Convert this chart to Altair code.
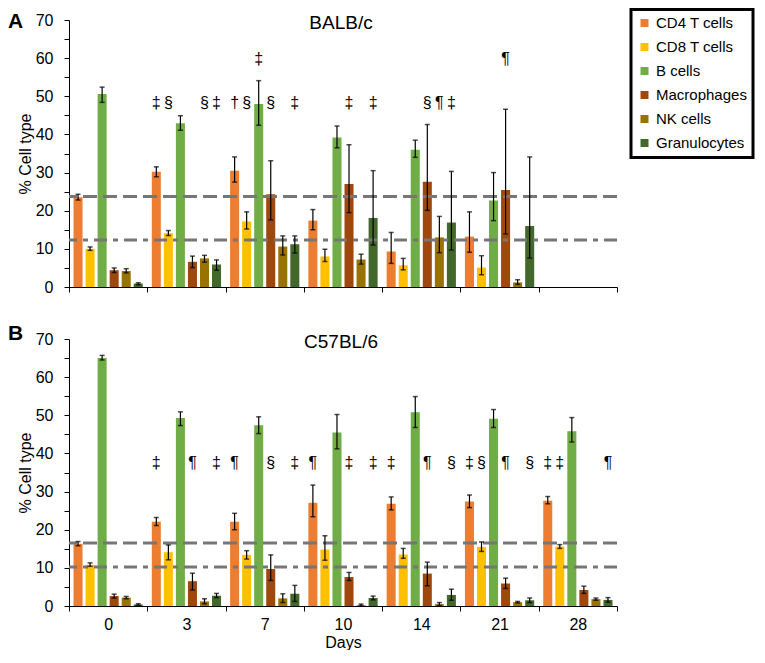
import altair as alt
import pandas as pd

days = ["0", "3", "7", "10", "14", "21", "28"]
cells = ["CD4 T cells", "CD8 T cells", "B cells", "Macrophages", "NK cells", "Granulocytes"]
colors = ["#ED7D31", "#FFC000", "#70AD47", "#9E480E", "#997300", "#43682B"]

# ---- Panel A: BALB/c (no data at day 28) ----
balb_mean = {
    "CD4 T cells":  [23.5, 30.2, 30.5, 17.4, 9.3, 13.2, None],
    "CD8 T cells":  [10.0, 14.1, 17.2, 8.0, 5.7, 5.1, None],
    "B cells":      [50.6, 42.9, 48.0, 39.2, 36.0, 22.7, None],
    "Macrophages":  [4.4, 6.6, 24.3, 27.0, 27.6, 25.4, None],
    "NK cells":     [4.2, 7.5, 10.6, 7.2, 13.0, 1.2, None],
    "Granulocytes": [0.9, 5.9, 11.2, 18.1, 16.9, 16.0, None],
}
balb_lo = {
    "CD4 T cells":  [22.8, 28.9, 27.5, 15.0, 6.2, 9.1, None],
    "CD8 T cells":  [9.6, 13.5, 15.2, 6.7, 4.5, 3.2, None],
    "B cells":      [48.4, 41.1, 42.4, 36.5, 34.0, 17.4, None],
    "Macrophages":  [3.8, 5.1, 17.6, 19.5, 20.1, 13.9, None],
    "NK cells":     [3.7, 6.5, 8.4, 6.0, 9.0, 0.7, None],
    "Granulocytes": [0.6, 4.4, 8.9, 11.0, 9.7, 7.6, None],
}
balb_hi = {
    "CD4 T cells":  [24.3, 31.5, 34.1, 20.3, 14.3, 19.7, None],
    "CD8 T cells":  [10.5, 14.8, 19.7, 9.9, 7.5, 8.2, None],
    "B cells":      [52.4, 44.9, 54.1, 42.2, 38.5, 30.0, None],
    "Macrophages":  [5.0, 8.1, 33.1, 37.3, 42.6, 46.6, None],
    "NK cells":     [4.8, 8.3, 13.4, 8.6, 18.5, 1.9, None],
    "Granulocytes": [1.1, 7.1, 13.4, 30.5, 30.3, 34.1, None],
}
balb_dashed = 23.7
balb_dashdot = 12.3
balb_ann_day = ["3", "3", "3", "3", "7", "7", "7", "7", "7", "10", "10", "14", "14", "14", "21"]
balb_ann_cell = ["CD4 T cells", "CD8 T cells", "NK cells", "Granulocytes",
                 "CD4 T cells", "CD8 T cells", "B cells", "Macrophages", "Granulocytes",
                 "Macrophages", "Granulocytes",
                 "Macrophages", "NK cells", "Granulocytes",
                 "Macrophages"]
balb_ann_sym = ["‡", "§", "§", "‡", "†", "§", "‡", "§", "‡", "‡", "‡", "§", "¶", "‡", "¶"]
balb_ann_level = [48.3, 48.3, 48.3, 48.3, 48.3, 48.3, 59.8, 48.3, 48.3, 48.3, 48.3, 48.3, 48.3, 48.3, 59.8]

# ---- Panel B: C57BL/6 ----
c57_mean = {
    "CD4 T cells":  [16.3, 22.1, 22.1, 27.1, 26.8, 27.4, 27.6],
    "CD8 T cells":  [10.8, 14.1, 13.4, 14.8, 13.5, 15.5, 15.6],
    "B cells":      [65.0, 49.3, 47.4, 45.5, 50.8, 49.1, 45.8],
    "Macrophages":  [2.6, 6.5, 9.7, 7.6, 8.5, 5.9, 4.2],
    "NK cells":     [2.2, 1.2, 2.0, 0.2, 0.5, 1.0, 1.8],
    "Granulocytes": [0.4, 2.7, 3.2, 2.1, 2.9, 1.5, 1.6],
}
c57_lo = {
    "CD4 T cells":  [15.8, 21.1, 20.0, 23.4, 25.2, 25.8, 26.8],
    "CD8 T cells":  [10.4, 12.1, 12.3, 12.0, 12.5, 14.3, 15.1],
    "B cells":      [64.5, 47.3, 45.2, 41.2, 46.8, 46.8, 43.0],
    "Macrophages":  [2.1, 4.2, 6.7, 6.7, 5.3, 4.6, 3.3],
    "NK cells":     [1.9, 0.6, 0.9, 0.0, 0.1, 0.8, 1.5],
    "Granulocytes": [0.15, 2.2, 1.2, 1.6, 1.5, 0.9, 1.0],
}
c57_hi = {
    "CD4 T cells":  [16.9, 23.2, 24.3, 31.7, 28.6, 29.1, 28.7],
    "CD8 T cells":  [11.3, 16.0, 14.5, 18.4, 15.1, 16.8, 16.1],
    "B cells":      [65.7, 50.9, 49.6, 50.2, 54.9, 51.5, 49.4],
    "Macrophages":  [3.1, 8.6, 13.4, 8.8, 11.5, 7.3, 5.2],
    "NK cells":     [2.5, 1.9, 3.2, 0.5, 0.9, 1.2, 2.1],
    "Granulocytes": [0.6, 3.3, 5.4, 2.6, 4.4, 2.1, 2.2],
}
c57_dashed = 16.5
c57_dashdot = 10.2
c57_ann_day = ["3", "3", "3", "7", "7", "7", "10", "10", "10", "14", "14", "14",
               "21", "21", "21", "21", "28", "28", "28"]
c57_ann_cell = ["CD4 T cells", "Macrophages", "Granulocytes",
                "CD4 T cells", "Macrophages", "Granulocytes",
                "CD4 T cells", "Macrophages", "Granulocytes",
                "CD4 T cells", "Macrophages", "Granulocytes",
                "CD4 T cells", "CD8 T cells", "Macrophages", "Granulocytes",
                "CD4 T cells", "CD8 T cells", "Granulocytes"]
c57_ann_sym = ["‡", "¶", "‡", "¶", "§", "‡", "¶", "‡", "‡", "‡", "¶", "§",
               "‡", "§", "¶", "§", "‡", "‡", "¶"]
c57_ann_level = [37.5] * len(c57_ann_sym)

FONT = "Liberation Sans"
W, H = 548, 267


def build_panel(mean, lo, hi, dashed, dashdot, a_day, a_cell, a_sym, a_level,
                title, letter, letter_y, show_x):
    rows = []
    for c in cells:
        for i, d in enumerate(days):
            if mean[c][i] is None:
                continue
            rows.append(dict(day=d, cell=c, value=mean[c][i], lo=lo[c][i], hi=hi[c][i]))
    df = pd.DataFrame(rows)
    ann = pd.DataFrame(dict(day=a_day, cell=a_cell, sym=a_sym, level=a_level))

    xaxis = alt.Axis(
        title="Days" if show_x else None,
        labels=show_x,
        labelAngle=0,
        tickBand="extent",
        tickSize=5,
        labelPadding=5,
        titlePadding=2,
    )
    yaxis = alt.Axis(
        title="% Cell type",
        values=list(range(0, 75, 5)),
        labelExpr="datum.value % 10 === 0 ? datum.label : ''",
        tickSize=5,
        labelPadding=11,
        titlePadding=2,
    )
    xs = alt.Scale(domain=days, paddingInner=0, paddingOuter=0)
    xos = alt.Scale(domain=cells, paddingInner=0.25, paddingOuter=0.375)
    ys = alt.Scale(domain=[0, 70], nice=False)

    def X():
        return alt.X("day:N", scale=xs, sort=days, axis=xaxis)

    def XO():
        return alt.XOffset("cell:N", scale=xos, sort=cells)

    bars = alt.Chart(df).mark_bar().encode(
        x=X(), xOffset=XO(),
        y=alt.Y("value:Q", scale=ys, axis=yaxis),
        color=alt.Color("cell:N", scale=alt.Scale(domain=cells, range=colors),
                        sort=cells, legend=alt.Legend(title=None)),
    )
    err = alt.Chart(df).mark_rule(color="black", strokeWidth=1.2).encode(
        x=X(), xOffset=XO(),
        y=alt.Y("lo:Q", scale=ys, axis=yaxis), y2="hi:Q",
    )
    cap_lo = alt.Chart(df).mark_tick(color="black", size=5, thickness=1.5).encode(
        x=X(), xOffset=XO(), y=alt.Y("lo:Q", scale=ys, axis=yaxis),
    )
    cap_hi = alt.Chart(df).mark_tick(color="black", size=5, thickness=1.5).encode(
        x=X(), xOffset=XO(), y=alt.Y("hi:Q", scale=ys, axis=yaxis),
    )
    ref1 = alt.Chart(pd.DataFrame({"v": [dashed]})).mark_rule(
        color="#767676", strokeWidth=3, strokeDash=[14, 6]
    ).encode(y=alt.Y("v:Q", scale=ys, axis=yaxis))
    ref2 = alt.Chart(pd.DataFrame({"v": [dashdot]})).mark_rule(
        color="#767676", strokeWidth=3, strokeDash=[13, 6, 5, 6]
    ).encode(y=alt.Y("v:Q", scale=ys, axis=yaxis))
    marks = alt.Chart(ann).mark_text(fontSize=16, font=FONT, color="black", baseline="middle").encode(
        x=X(), xOffset=XO(), y=alt.Y("level:Q", scale=ys, axis=yaxis), text="sym:N",
    )
    ttl = alt.Chart(pd.DataFrame({"t": [title]})).mark_text(
        fontSize=19, font=FONT, color="black", baseline="middle", align="center"
    ).encode(text="t:N", x=alt.value(272), y=alt.value(3))
    let = alt.Chart(pd.DataFrame({"t": [letter]})).mark_text(
        fontSize=21, font=FONT, fontWeight="bold", color="black", baseline="top", align="left"
    ).encode(text="t:N", x=alt.value(-61), y=alt.value(letter_y))

    return alt.layer(bars, ref1, ref2, err, cap_lo, cap_hi, marks, ttl, let).properties(width=W, height=H)


top = build_panel(balb_mean, balb_lo, balb_hi, balb_dashed, balb_dashdot,
                  balb_ann_day, balb_ann_cell, balb_ann_sym, balb_ann_level,
                  "BALB/c", "A", -9, False)
bottom = build_panel(c57_mean, c57_lo, c57_hi, c57_dashed, c57_dashdot,
                     c57_ann_day, c57_ann_cell, c57_ann_sym, c57_ann_level,
                     "C57BL/6", "B", -16, True)

chart = alt.vconcat(top, bottom, spacing=52, bounds="flush").properties(padding=0).configure_view(
    stroke=None
).configure_axis(
    labelFont=FONT, titleFont=FONT, labelFontSize=16, titleFontSize=16,
    labelColor="black", titleColor="black", domainColor="black", tickColor="black",
    titleFontWeight="normal", grid=False,
).configure_legend(
    orient="none", legendX=562, legendY=-10.5, labelFont=FONT, labelFontSize=15, labelColor="black",
    symbolType="square", symbolSize=64, symbolStrokeWidth=0, rowPadding=8,
    padding=6, strokeColor="black", strokeWidth=3, labelOffset=4,
)

chart.save("out.html", embed_options={"renderer": "svg", "actions": False})
